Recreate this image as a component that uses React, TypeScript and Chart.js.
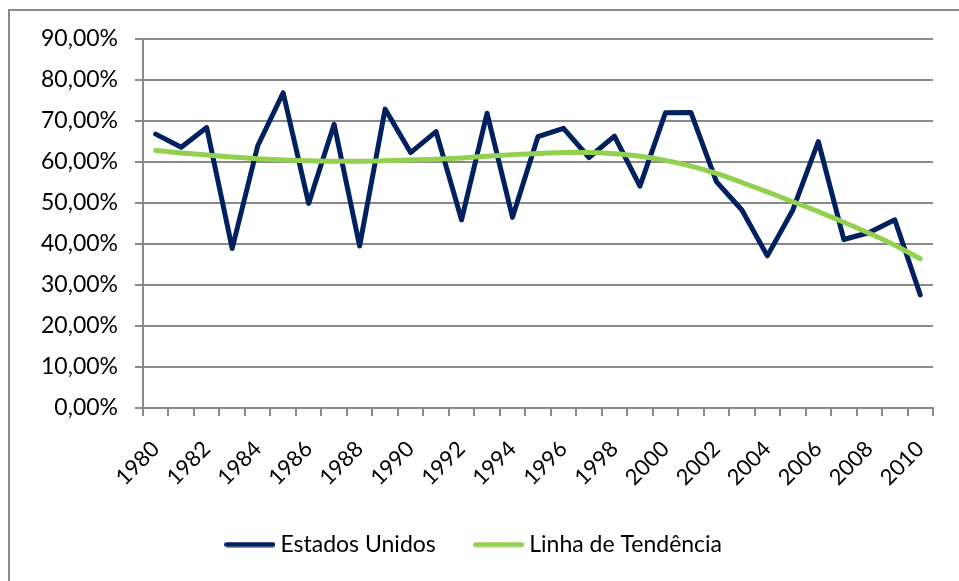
import React, { useEffect, useRef } from 'react';
import { Chart, registerables } from 'chart.js';

Chart.register(...registerables);

const years = [
  '1980', '1981', '1982', '1983', '1984', '1985', '1986', '1987', '1988', '1989',
  '1990', '1991', '1992', '1993', '1994', '1995', '1996', '1997', '1998', '1999',
  '2000', '2001', '2002', '2003', '2004', '2005', '2006', '2007', '2008', '2009', '2010',
];

const estadosUnidos = [
  66.8, 63.6, 68.4, 38.9, 63.9, 76.9, 49.9, 69.2, 39.5, 72.9,
  62.3, 67.4, 45.9, 71.9, 46.5, 66.2, 68.2, 61.1, 66.3, 54.1,
  72.0, 72.1, 55.2, 48.3, 37.1, 48.3, 65.0, 41.1, 42.8, 45.9, 27.6,
];

const linhaTendencia = [
  62.8, 62.2, 61.7, 61.2, 60.8, 60.5, 60.3, 60.2, 60.2, 60.3,
  60.5, 60.7, 61.0, 61.4, 61.8, 62.1, 62.3, 62.3, 62.0, 61.4,
  60.4, 59.0, 57.2, 55.0, 52.7, 50.3, 47.9, 45.3, 42.6, 39.7, 36.4,
];

const seriesNames = ['Estados Unidos', 'Linha de Tendência'];
const seriesColors = ['#002060', '#92D050'];

const GRID = '#898989';
const FONT = 'Lato';

function legendLine(color: string): HTMLCanvasElement {
  const c = document.createElement('canvas');
  c.width = 51;
  c.height = 6;
  const ctx = c.getContext('2d');
  if (ctx) {
    ctx.strokeStyle = color;
    ctx.lineWidth = 5;
    ctx.lineCap = 'round';
    ctx.beginPath();
    ctx.moveTo(2.5, 3);
    ctx.lineTo(48.5, 3);
    ctx.stroke();
  }
  return c;
}

export default function App() {
  const canvasRef = useRef<HTMLCanvasElement | null>(null);

  useEffect(() => {
    document.body.style.margin = '0';
    const canvas = canvasRef.current;
    if (!canvas) return;
    const chart = new Chart(canvas, {
      type: 'line',
      data: {
        labels: years,
        datasets: [
          {
            label: seriesNames[0],
            data: estadosUnidos,
            borderColor: seriesColors[0],
            backgroundColor: seriesColors[0],
            borderWidth: 5,
            pointRadius: 0,
            pointStyle: legendLine(seriesColors[0]),
            tension: 0,
            borderCapStyle: 'round',
            borderJoinStyle: 'round',
            order: 1,
          },
          {
            label: seriesNames[1],
            data: linhaTendencia,
            borderColor: seriesColors[1],
            backgroundColor: seriesColors[1],
            borderWidth: 5,
            pointRadius: 0,
            pointStyle: legendLine(seriesColors[1]),
            cubicInterpolationMode: 'monotone',
            borderCapStyle: 'round',
            order: 0,
          },
        ],
      },
      options: {
        responsive: false,
        animation: false,
        layout: { padding: { left: 20, right: 26, top: 39, bottom: 15 } },
        plugins: {
          tooltip: { enabled: false },
          legend: {
            position: 'bottom',
            labels: {
              usePointStyle: true,
              pointStyleWidth: 38,
              padding: 44,
              color: '#000',
              font: { family: FONT, size: 23 },
              sort: (a: any, b: any) => a.datasetIndex - b.datasetIndex,
            },
          },
        },
        scales: {
          x: {
            offset: true,
            grid: {
              offset: true,
              drawOnChartArea: false,
              drawTicks: true,
              tickLength: 8,
              color: GRID,
              lineWidth: 2,
            },
            border: { display: true, color: GRID, width: 2 },
            ticks: {
              autoSkip: false,
              maxRotation: 45,
              minRotation: 45,
              padding: 20,
              color: '#000',
              font: { family: FONT, size: 22 },
              callback: (_v: any, i: number) => (i % 2 === 0 ? years[i] : ''),
            },
            afterFit: (scale: any) => {
              scale.height = 81;
              scale.paddingLeft = 0;
              scale.paddingRight = 0;
            },
          },
          y: {
            min: 0,
            max: 90,
            grid: { color: GRID, lineWidth: 2, tickLength: 8 },
            border: { display: true, color: GRID, width: 2 },
            ticks: {
              stepSize: 10,
              padding: 17,
              color: '#000',
              font: { family: FONT, size: 23 },
              callback: (v: any) => Number(v).toFixed(2).replace('.', ',') + '%',
            },
            afterFit: (scale: any) => {
              scale.width = 123;
            },
          },
        },
      },
    });
    return () => chart.destroy();
  }, []);

  return (
    <div style={{ position: 'relative', width: 959, height: 581, overflow: 'hidden', background: '#fff' }}>
      <div
        style={{
          position: 'absolute',
          left: 8,
          top: 9,
          width: 1000,
          height: 620,
          border: '2px solid #8a8a8a',
          boxSizing: 'border-box',
        }}
      />
      <canvas ref={canvasRef} width={959} height={581} style={{ position: 'absolute', left: 0, top: 0 }} />
    </div>
  );
}
